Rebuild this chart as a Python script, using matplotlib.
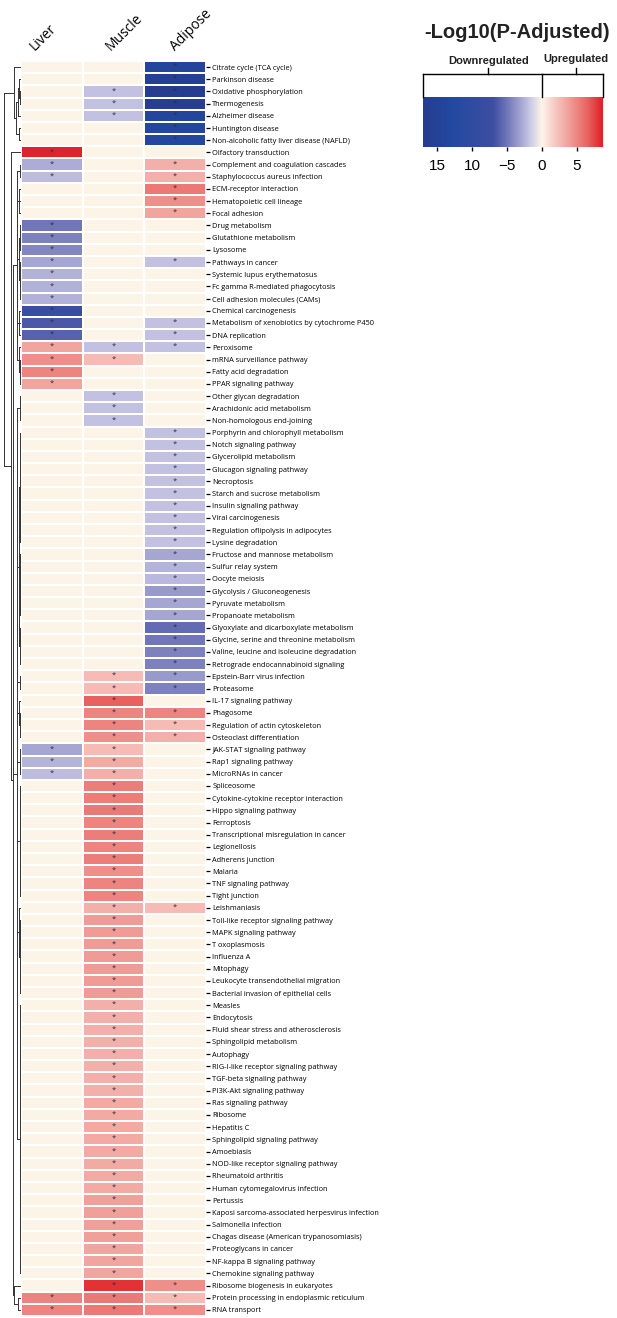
import numpy as np
import matplotlib
matplotlib.use('Agg')
import matplotlib.pyplot as plt
from matplotlib.colors import LinearSegmentedColormap, Normalize

# Data: -log10(p-adj) per tissue, negative = downregulated, 0 = not significant

pathways = [
    'Citrate cycle (TCA cycle)', 'Parkinson disease', 'Oxidative phosphorylation', 'Thermogenesis',
    'Alzheimer disease', 'Huntington disease', 'Non-alcoholic fatty liver disease (NAFLD)',
    'Olfactory transduction', 'Complement and coagulation cascades', 'Staphylococcus aureus infection',
    'ECM-receptor interaction', 'Hematopoietic cell lineage', 'Focal adhesion', 'Drug metabolism',
    'Glutathione metabolism', 'Lysosome', 'Pathways in cancer', 'Systemic lupus erythematosus',
    'Fc gamma R-mediated phagocytosis', 'Cell adhesion molecules (CAMs)', 'Chemical carcinogenesis',
    'Metabolism of xenobiotics by cytochrome P450', 'DNA replication', 'Peroxisome',
    'mRNA surveillance pathway', 'Fatty acid degradation', 'PPAR signaling pathway',
    'Other glycan degradation', 'Arachidonic acid metabolism', 'Non-homologous end-joining',
    'Porphyrin and chlorophyll metabolism', 'Notch signaling pathway', 'Glycerolipid metabolism',
    'Glucagon signaling pathway', 'Necroptosis', 'Starch and sucrose metabolism',
    'Insulin signaling pathway', 'Viral carcinogenesis', 'Regulation oflipolysis in adipocytes',
    'Lysine degradation', 'Fructose and mannose metabolism', 'Sulfur relay system', 'Oocyte meiosis',
    'Glycolysis / Gluconeogenesis', 'Pyruvate metabolism', 'Propanoate metabolism',
    'Glyoxylate and dicarboxylate metabolism', 'Glycine, serine and threonine metabolism',
    'Valine, leucine and isoleucine degradation', 'Retrograde endocannabinoid signaling',
    'Epstein-Barr virus infection', 'Proteasome', 'IL-17 signaling pathway', 'Phagosome',
    'Regulation of actin cytoskeleton', 'Osteoclast differentiation', 'JAK-STAT signaling pathway',
    'Rap1 signaling pathway', 'MicroRNAs in cancer', 'Spliceosome',
    'Cytokine-cytokine receptor interaction', 'Hippo signaling pathway', 'Ferroptosis',
    'Transcriptional misregulation in cancer', 'Legionellosis', 'Adherens junction', 'Malaria',
    'TNF signaling pathway', 'Tight junction', 'Leishmaniasis', 'Toll-like receptor signaling pathway',
    'MAPK signaling pathway', 'T oxoplasmosis', 'Influenza A', 'Mitophagy',
    'Leukocyte transendothelial migration', 'Bacterial invasion of epithelial cells', 'Measles',
    'Endocytosis', 'Fluid shear stress and atherosclerosis', 'Sphingolipid metabolism', 'Autophagy',
    'RIG-I-like receptor signaling pathway', 'TGF-beta signaling pathway', 'PI3K-Akt signaling pathway',
    'Ras signaling pathway', 'Ribosome', 'Hepatitis C', 'Sphingolipid signaling pathway', 'Amoebiasis',
    'NOD-like receptor signaling pathway', 'Rheumatoid arthritis', 'Human cytomegalovirus infection',
    'Pertussis', 'Kaposi sarcoma-associated herpesvirus infection', 'Salmonella infection',
    'Chagas disease (American trypanosomiasis)', 'Proteoglycans in cancer',
    'NF-kappa B signaling pathway', 'Chemokine signaling pathway',
    'Ribosome biogenesis in eukaryotes', 'Protein processing in endoplasmic reticulum', 'RNA transport',
]

tissues = ['Liver', 'Muscle', 'Adipose']

liver = [0, 0, 0, 0, 0, 0, 0, 8.5, -2.8, -2.2,
         0, 0, 0, -5, -4.5, -4.3, -3, -2.6, -2.6, -2.6,
         -8, -6.5, -6, 3.5, 4.5, 5, 3.5, 0, 0, 0,
         0, 0, 0, 0, 0, 0, 0, 0, 0, 0,
         0, 0, 0, 0, 0, 0, 0, 0, 0, 0,
         0, 0, 0, 0, 0, 0, -3, -2.5, -2.2, 0,
         0, 0, 0, 0, 0, 0, 0, 0, 0, 0,
         0, 0, 0, 0, 0, 0, 0, 0, 0, 0,
         0, 0, 0, 0, 0, 0, 0, 0, 0, 0,
         0, 0, 0, 0, 0, 0, 0, 0, 0, 0,
         0, 5, 5]

muscle = [0, 0, -2, -2, -2, 0, 0, 0, 0, 0,
          0, 0, 0, 0, 0, 0, 0, 0, 0, 0,
          0, 0, 0, -2, 2.5, 0, 0, -2, -2, -2,
          0, 0, 0, 0, 0, 0, 0, 0, 0, 0,
          0, 0, 0, 0, 0, 0, 0, 0, 0, 0,
          2.5, 2.5, 6.5, 5, 5, 4.5, 2.5, 3.3, 3, 5.3,
          5.3, 5.5, 5, 5.3, 5, 5.3, 4.5, 5, 5, 3,
          4, 4, 4, 4, 4, 4, 4, 3, 3, 3,
          3, 3, 3, 3, 3, 3.3, 3.3, 3.3, 3.3, 3.3,
          3.3, 3.3, 3.3, 3.8, 3.8, 3.8, 3.8, 3.5, 3.5, 3.5,
          8, 5.5, 5.5]

adipose = [-14, -16, -17, -16.5, -14, -13.5, -13.5, 0, 3, 3,
           5.5, 4.5, 3.5, 0, 0, 0, -2, 0, 0, 0,
           0, -2, -2, -2, 0, 0, 0, 0, 0, 0,
           -2, -2, -2, -2, -2, -2, -2, -2, -2, -2,
           -3, -2.5, -2.3, -3.5, -3, -3, -5.5, -5, -4.5, -4.5,
           -3.5, -4.5, 0, 5, 2.5, 3, 0, 0, 0, 0,
           0, 0, 0, 0, 0, 0, 0, 0, 0, 2.5,
           0, 0, 0, 0, 0, 0, 0, 0, 0, 0,
           0, 0, 0, 0, 0, 0, 0, 0, 0, 0,
           0, 0, 0, 0, 0, 0, 0, 0, 0, 0,
           4.5, 2.5, 4.5]

# row dendrogram: [merge height, child, child, ...], leaves are row indices
tree = [1.0,
        [0.41, 0, [0.30, [0.16, [0.09, 1, [0.03, 2, 3]], 4], [0.12, 5, 6]]],
        [0.56, 7,
         [0.47,
          [0.25, [0.08, 8, 9], [0.10, 10, 11, 12],
           [0.14, [0.06, 13, 14, 15], [0.08, 16, 17, 18, 19]],
           [0.09, 20, 21, 22], [0.11, 23, [0.07, 24, 25, 26]]],
          [0.20, [0.05, 27, 28, 29],
           [0.10, [0.05, *range(30, 40)], [0.07, *range(40, 46)], [0.06, 46, 47, 48, 49]],
           [0.05, 50, 51], [0.09, 52, [0.05, 53, 54, 55]], [0.05, 56, 57, 58],
           [0.07, *range(59, 69)], [0.12, 69, [0.05, *range(70, 77)]],
           [0.06, *range(77, 100)]],
          [0.40, 100, [0.18, 101, 102]]]]]

cb_ticks = [-15, -10, -5, 0, 5]
cb_ticklabels = ['15', '10', '\u22125', '0', '5']

vmin, vmax = -17, 8.7
stops = [(-17, '#263C8F'), (-13, '#2249A0'), (-7, '#3E4EA1'), (-5, '#7076B8'),
         (-3, '#A6A6D3'), (-1.5, '#D0CEE7'), (0, '#FDF5E9'), (1, '#FADCD5'),
         (4, '#F09C96'), (6.5, '#E86461'), (8.7, '#E01F26')]
cmap = LinearSegmentedColormap.from_list(
    'dirmap', [((v - vmin) / (vmax - vmin), c) for v, c in stops])
norm = Normalize(vmin, vmax)

plt.rcParams['font.family'] = ['Open Sans', 'DejaVu Sans']

W, H = 617, 1318
fig = plt.figure(figsize=(W / 100, H / 100), dpi=100)

def px(x0, y0, x1, y1):
    return [x0 / W, 1 - y1 / H, (x1 - x0) / W, (y1 - y0) / H]

# heatmap
vals = np.array([liver, muscle, adipose]).T
n = len(pathways)
ax = fig.add_axes(px(21, 61, 206, 1316))
ax.pcolormesh(np.arange(4), np.arange(n + 1), vals, cmap=cmap, norm=norm,
              edgecolors='#ffffff', linewidth=0.2)
for i in range(n):
    for j in range(3):
        if vals[i, j] != 0:
            ax.text(j + 0.5, i + 0.45, '*', ha='center', va='center',
                    fontsize=5.5, color='#2e2e3e')
ax.set_xlim(0, 3)
ax.set_ylim(n, 0)
ax.set_yticks(np.arange(n) + 0.5)
ax.set_yticklabels(pathways, fontsize=5.3)
ax.tick_params(axis='y', left=False, labelleft=False, right=True, labelright=True,
               length=3, width=0.9, pad=1.5)
ax.set_xticks([])
for s in ax.spines.values():
    s.set_visible(False)
head_x = [0.26, 1.5, 2.55]
for x, t in zip(head_x, tissues):
    ax.text(x, -0.6, t, rotation=45, rotation_mode='anchor',
            ha='left', va='bottom', fontsize=10)

# dendrogram
dax = fig.add_axes(px(0, 61, 21, 1316))

def draw(node):
    if isinstance(node, int):
        return node + 0.5, 0.0
    h = node[0]
    kids = [draw(k) for k in node[1:]]
    ys = [k[0] for k in kids]
    for y, kh in kids:
        dax.plot([kh, h], [y, y], color='#333333', lw=0.7, solid_capstyle='butt')
    dax.plot([h, h], [min(ys), max(ys)], color='#333333', lw=0.7)
    return (min(ys) + max(ys)) / 2, h

draw(tree)
dax.set_xlim(1.2, 0)
dax.set_ylim(n, 0)
dax.axis('off')

# colour key
cax = fig.add_axes(px(423, 97, 603, 147))
grad = np.linspace(vmin, vmax, 512)[None, :]
cax.imshow(grad, aspect='auto', cmap=cmap, norm=norm, extent=[vmin, vmax, 0, 1])
cax.set_xlim(vmin, vmax)
cax.set_ylim(0, 1)
cax.set_yticks([])
cax.set_xticks(cb_ticks)
cax.set_xticklabels(cb_ticklabels, fontsize=11, family='Liberation Sans')
cax.tick_params(axis='x', length=3, width=1, pad=6)
for s in cax.spines.values():
    s.set_visible(False)

yb, yt = 1.46, 1.58
kw = dict(color='black', lw=1, clip_on=False)
cax.plot([vmin, vmax], [yb, yb], **kw)
for xv in [vmin, 0, vmax]:
    cax.plot([xv, xv], [1.0, yb], **kw)
mid_dn, mid_up = (vmin + 0) / 2 + 0.8, (0 + vmax) / 2 + 0.5
for xv in [mid_dn, mid_up]:
    cax.plot([xv, xv], [yb, yt], **kw)
cax.text(mid_dn, 1.62, 'Downregulated', ha='center', va='bottom', fontsize=8,
         fontweight='bold', family='Liberation Sans', color='#222222')
cax.text(mid_up, 1.66, 'Upregulated', ha='center', va='bottom', fontsize=8,
         fontweight='bold', family='Liberation Sans', color='#222222')
fig.text(424 / W, 1 - 32 / H, '-Log10(P-Adjusted)', ha='left', va='center',
         fontsize=14.5, fontweight='bold', family='Liberation Sans', color='#222222')

fig.savefig('out.png', dpi=100)
